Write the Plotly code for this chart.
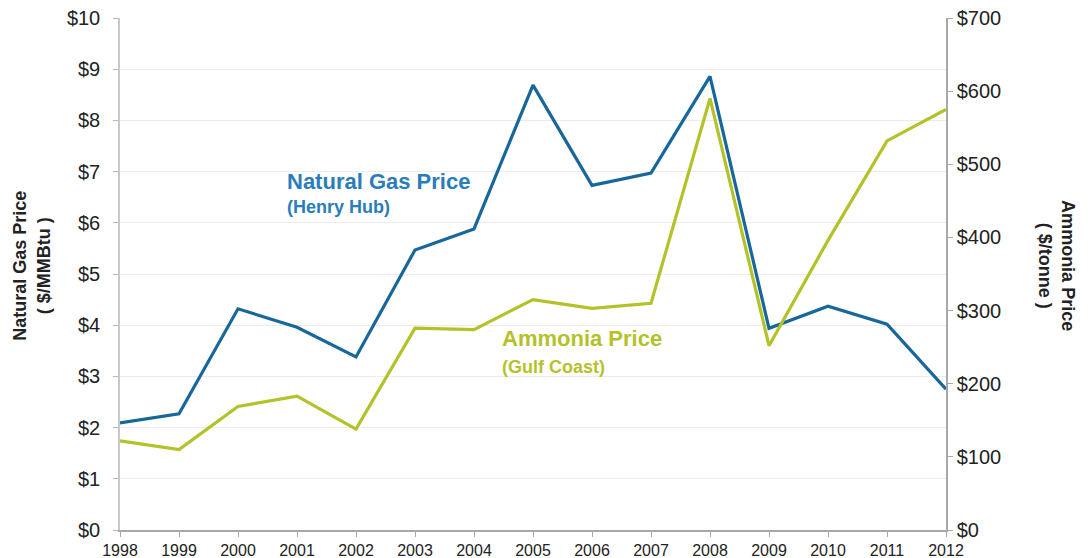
import plotly.graph_objects as go

years = [1998, 1999, 2000, 2001, 2002, 2003, 2004, 2005, 2006, 2007, 2008, 2009, 2010, 2011, 2012]
gas_price = [2.09, 2.27, 4.32, 3.96, 3.38, 5.47, 5.88, 8.69, 6.73, 6.97, 8.86, 3.94, 4.37, 4.02, 2.75]
ammonia_price = [122, 110, 169, 183, 138, 276, 274, 315, 303, 310, 590, 252, 396, 532, 575]

left_ticks = [0, 1, 2, 3, 4, 5, 6, 7, 8, 9, 10]
left_labels = [f"${v}" for v in left_ticks]
right_ticks = [0, 100, 200, 300, 400, 500, 600, 700]
right_labels = [f"${v}" for v in right_ticks]

BLUE = "#17679b"
BLUE_TXT = "#2a7cba"
GREEN = "#b4c22a"
FONT = "Liberation Sans, Arial, sans-serif"

fig = go.Figure()
fig.add_trace(go.Scatter(x=years, y=gas_price, mode="lines", line=dict(color=BLUE, width=3.2),
                         name="Natural Gas Price", yaxis="y"))
fig.add_trace(go.Scatter(x=years, y=ammonia_price, mode="lines", line=dict(color=GREEN, width=3.2),
                         name="Ammonia Price", yaxis="y2"))

# page body has an 8px default margin, so the figure is sized/offset to compensate
fig.update_layout(
    width=1083, height=550,
    margin=dict(l=112, r=145, t=10, b=28),
    paper_bgcolor="white", plot_bgcolor="white",
    showlegend=False,
    font=dict(family=FONT, color="#222222"),
    xaxis=dict(range=[1998, 2012], tickmode="array", tickvals=years, ticktext=[str(y) for y in years],
               showgrid=False, showline=True, linecolor="#a8a8a8", linewidth=1.5,
               ticks="outside", ticklen=5, tickcolor="#a8a8a8", tickfont=dict(size=16, color="#222"),
               zeroline=False, automargin=False, ticklabeloverflow="allow"),
    yaxis=dict(range=[0, 10], tickmode="array", tickvals=left_ticks, ticktext=left_labels,
               showgrid=True, gridcolor="#ececec", gridwidth=1,
               showline=True, linecolor="#c8c8c8", linewidth=1.5,
               ticks="outside", ticklen=5, tickcolor="#b8b8b8", tickfont=dict(size=20, color="#222"),
               ticklabelstandoff=9, zeroline=False, automargin=False, ticklabeloverflow="allow"),
    yaxis2=dict(range=[0, 700], tickmode="array", tickvals=right_ticks, ticktext=right_labels,
                overlaying="y", side="right", showgrid=False,
                showline=True, linecolor="#a8a8a8", linewidth=1.5,
                ticks="outside", ticklen=5, tickcolor="#a8a8a8", tickfont=dict(size=20, color="#222"),
                zeroline=False, automargin=False, ticklabeloverflow="allow"),
)

fig.add_annotation(x=-0.1065, y=0.516, xref="paper", yref="paper", xanchor="center", yanchor="middle",
                   text="<b>Natural Gas Price</b><br><b>( $/MMBtu )</b>", textangle=-90, showarrow=False,
                   font=dict(size=18, color="#222"))
fig.add_annotation(x=1.134, y=0.516, xref="paper", yref="paper", xanchor="center", yanchor="middle",
                   text="<b>Ammonia Price</b><br><b>( $/tonne )</b>", textangle=90, showarrow=False,
                   font=dict(size=18, color="#222"))
fig.add_annotation(x=2000.8, y=6.80, xref="x", yref="y", xanchor="left", yanchor="middle",
                   text="<b>Natural Gas Price</b>", showarrow=False, font=dict(size=22, color=BLUE_TXT))
fig.add_annotation(x=2000.8, y=6.31, xref="x", yref="y", xanchor="left", yanchor="middle",
                   text="<b>(Henry Hub)</b>", showarrow=False, font=dict(size=18, color=BLUE_TXT))
fig.add_annotation(x=2004.44, y=3.75, xref="x", yref="y", xanchor="left", yanchor="middle",
                   text="<b>Ammonia Price</b>", showarrow=False, font=dict(size=22, color=GREEN))
fig.add_annotation(x=2004.44, y=3.18, xref="x", yref="y", xanchor="left", yanchor="middle",
                   text="<b>(Gulf Coast)</b>", showarrow=False, font=dict(size=18, color=GREEN))

fig.write_html("out.html")
